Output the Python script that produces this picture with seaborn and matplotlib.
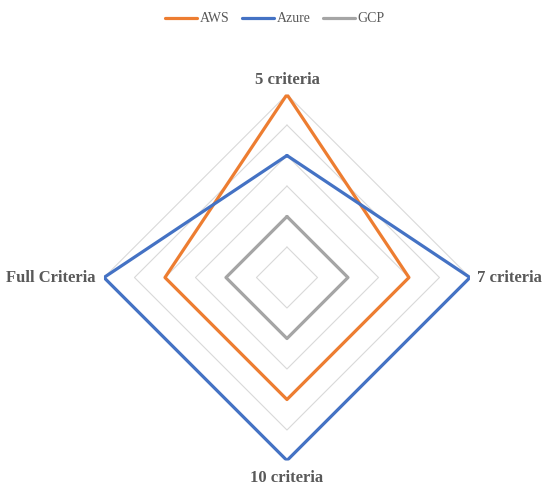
import numpy as np
import pandas as pd
import seaborn as sns
import matplotlib.pyplot as plt

# radar chart, 4 axes, clockwise from top
categories = ["5 criteria", "7 criteria", "10 criteria", "Full Criteria"]
aws = [6, 4, 4, 4]
azure = [4, 6, 6, 6]
gcp = [2, 2, 2, 2]
rings = [1, 2, 3, 4, 5, 6]

colors = {"AWS": "#ED7D31", "Azure": "#4472C4", "GCP": "#A5A5A5"}

sns.set_style("white")
plt.rcParams['font.family'] = ['Liberation Serif', 'DejaVu Serif']

angles = np.linspace(0, 2 * np.pi, len(categories), endpoint=False)
theta = np.append(angles, angles[0])

rows = []
for name, vals in [("AWS", aws), ("Azure", azure), ("GCP", gcp)]:
    for i, t in enumerate(theta):
        rows.append({"series": name, "order": i, "theta": t,
                     "value": vals[i % len(vals)]})
df = pd.DataFrame(rows)

fig = plt.figure(figsize=(5.5, 4.91), dpi=100)
ax = fig.add_axes([0.189, 0.0621, 0.6655, 0.7454], projection="polar")
ax.set_theta_zero_location("N")
ax.set_theta_direction(-1)

# diamond grid
for r in rings:
    ax.plot(theta, [r] * len(theta), color="#D9D9D9", lw=0.8, zorder=1)

for name in ["AWS", "Azure", "GCP"]:
    d = df[df["series"] == name]
    sns.lineplot(data=d, x="theta", y="value", sort=False, estimator=None,
                 color=colors[name], lw=2.3, label=name, ax=ax, zorder=3)

ax.set_ylim(0, max(rings))
ax.grid(False)
ax.spines["polar"].set_visible(False)
ax.set_xticks([])
ax.set_yticks([])
ax.set_xlabel("")
ax.set_ylabel("")

offsets = [(0, 5, "center", "bottom"), (5, 0, "left", "center"),
           (0, -7, "center", "top"), (-6, 0, "right", "center")]
for cat, a, (dx, dy, ha, va) in zip(categories, angles, offsets):
    ax.annotate(cat, xy=(a, max(rings)), xytext=(dx, dy),
                textcoords="offset points", ha=ha, va=va,
                fontsize=12, fontweight="bold", color="#595959")

ax.get_legend().remove()
h, l = ax.get_legend_handles_labels()
fig.legend(h, l, loc="upper center", bbox_to_anchor=(0.5, 1.0), ncol=3,
           frameon=False, fontsize=10, handlelength=2.3, handletextpad=0.2,
           columnspacing=0.9, labelcolor="#595959")

fig.savefig("out.png", dpi=100)
